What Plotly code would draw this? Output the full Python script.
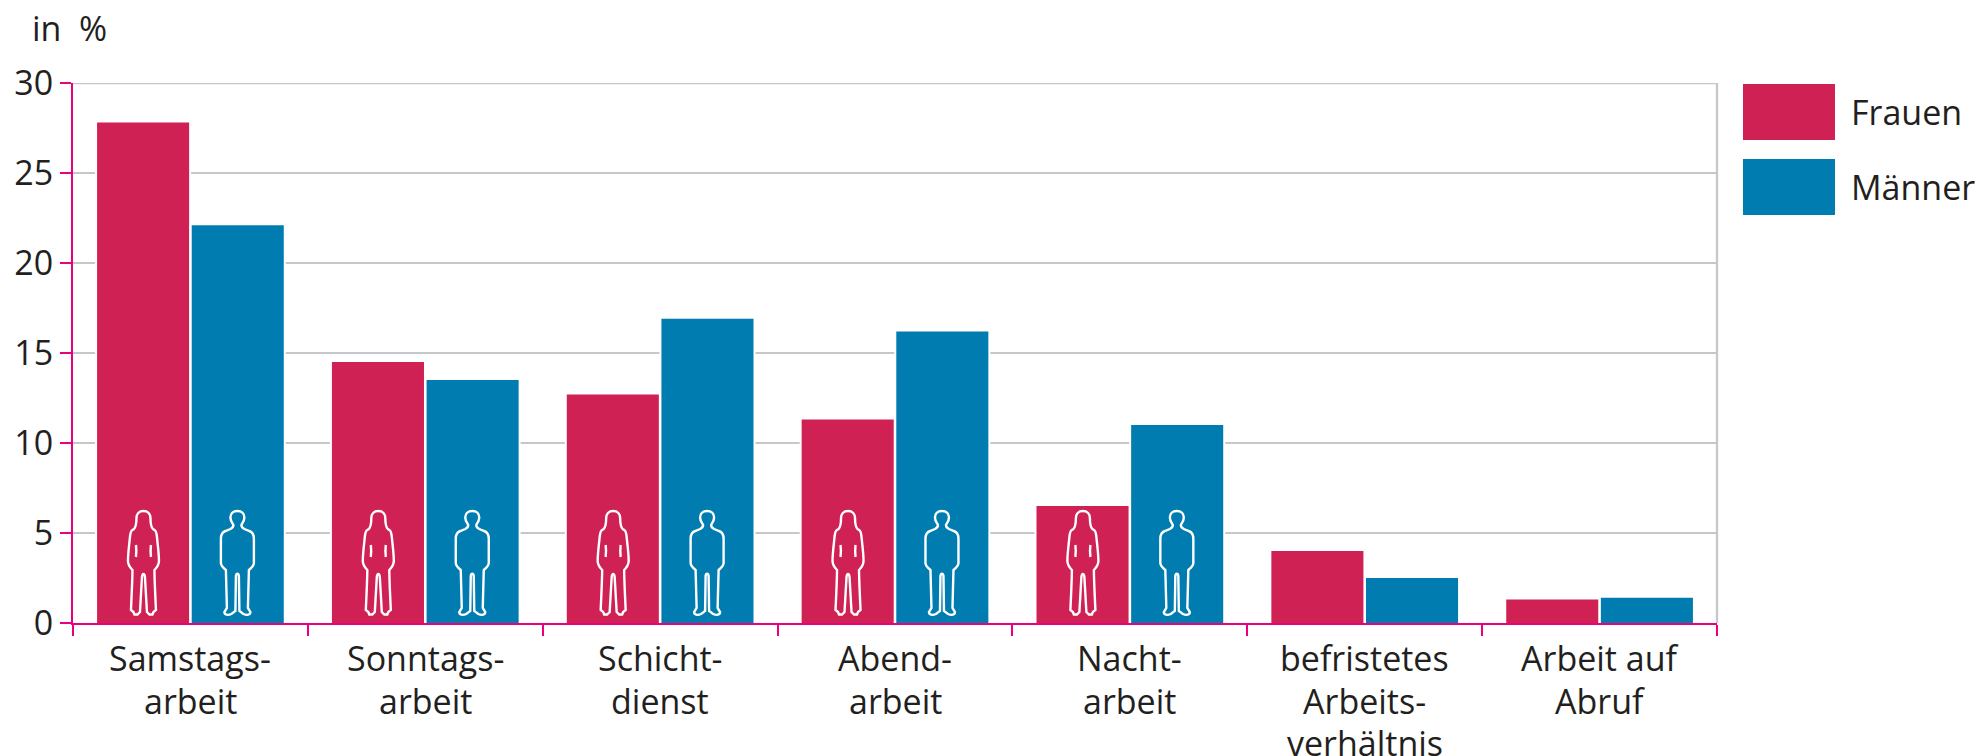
import plotly.graph_objects as go

categories = ["Samstags-\narbeit", "Sonntags-\narbeit", "Schicht-\ndienst", "Abend-\narbeit",
              "Nacht-\narbeit", "befristetes\nArbeits-\nverhältnis", "Arbeit auf\nAbruf"]
frauen = [27.8, 14.5, 12.7, 11.3, 6.5, 4.0, 1.3]
maenner = [22.1, 13.5, 16.9, 16.2, 11.0, 2.5, 1.4]
y_ticks = [0, 5, 10, 15, 20, 25, 30]

RED = "#d02154"
BLUE = "#007cb0"
PINK = "#e8007f"
GRID = "#c6c7c9"
INK = "#231f20"
FONT = "Open Sans"
W, H = 1980, 756
L, R, T, B = 73, 1717, 83, 623
BW = 0.392
GAP = 0.0055
fs = 34

ids = list(range(len(categories)))
fig = go.Figure()
for name, vals, col, off in [("Frauen", frauen, RED, -BW - GAP), ("Männer", maenner, BLUE, GAP)]:
    fig.add_bar(x=ids, y=vals, width=BW, offset=off, marker=dict(color="white", line=dict(color="white", width=4)),
                showlegend=False, hoverinfo="skip")
    fig.add_bar(x=ids, y=vals, width=BW, offset=off, name=name, marker=dict(color=col, line=dict(width=0)),
                showlegend=False)

shapes = [
    dict(type="line", xref="x domain", yref="paper", x0=1, x1=1, y0=0, y1=1, line=dict(color=GRID, width=2.3)),
    dict(type="line", xref="x domain", yref="y", x0=0, x1=1, y0=30, y1=30, line=dict(color=GRID, width=2.3)),
]

woman = ("M0,112 C-4.5,112 -7,109 -7,105 C-7,100 -7.5,96 -9.5,94 L-11,93 C-13,92 -13,90 -13.5,86 C-14,80 -15.5,70 -15.5,62 "
         "C-15.5,58 -13,55 -11,53 C-11,44 -12,24 -12.5,13 L-10,11 L-9,8.5 L-6,8.5 L-3.5,11 L-1.5,46 C-1,50 1,50 1.5,46 L3.5,11 L6,8.5 L9,8.5 L10,11 L12.5,13 "
         "C12,24 11,44 11,53 C13,55 15.5,58 15.5,62 C15.5,70 14,80 13.5,86 C13,90 13,92 11,93 L9.5,94 C7.5,96 7,100 7,105 C7,109 4.5,112 0,112 Z")
woman_l = "M-7.5,78 C-7,74 -7,70 -7.5,66"
woman_r = "M7.5,78 C7,74 7,70 7.5,66"
man = ("M0,112 C-4.5,112 -7,109 -7,105.5 C-7,102 -5,100 -4,98 C-4,96 -5,95 -7,94 L-12,92 C-15,91 -16.5,88 -16.5,84 L-16.5,60 C-16.5,57 -14,55 -11.5,53 "
       "L-10.5,15 L-13,11 C-13,8 -9.5,7.5 -6,9 L-2,12 L-1.5,47 C-1,50 1,50 1.5,47 L2,12 L6,9 C9.5,7.5 13,8 13,11 L10.5,15 L11.5,53 "
       "C14,55 16.5,57 16.5,60 L16.5,84 C16.5,88 15,91 12,92 L7,94 C5,95 4,96 4,98 C5,100 7,102 7,105.5 C7,109 4.5,112 0,112 Z")
for i in range(5):
    for path, dx in [(woman, -0.2), (woman_l, -0.2), (woman_r, -0.2), (man, 0.2)]:
        shapes.append(dict(type="path", xref="x", yref="y", xsizemode="pixel", ysizemode="pixel",
                           xanchor=i + dx, yanchor=0, path=path, line=dict(color="white", width=2.4),
                           fillcolor="rgba(0,0,0,0)"))

annotations = [dict(text="in\u00a0 %", x=(30 - L) / (R - L), y=(B - 28) / (B - T), xref="paper", yref="paper",
                    xanchor="left", yanchor="middle", showarrow=False, font=dict(family=FONT, size=fs, color=INK))]
for i, c in enumerate(categories):
    for j, line in enumerate(c.split("\n")):
        annotations.append(dict(text=line, x=i, xref="x", yref="paper", y=0, yanchor="middle", xanchor="center",
                                yshift=-(35 + 42.5 * j), showarrow=False, font=dict(family=FONT, size=fs, color=INK)))

for name, col, y0, y1 in [("Frauen", RED, 84, 140), ("Männer", BLUE, 159, 215)]:
    shapes.append(dict(type="rect", xref="paper", yref="paper", x0=(1743 - L) / (R - L), x1=(1835 - L) / (R - L),
                       y0=(B - y1) / (B - T), y1=(B - y0) / (B - T), fillcolor=col, line=dict(width=0)))
    annotations.append(dict(text=name, xref="paper", yref="paper", x=(1849 - L) / (R - L), y=(B - (y0 + y1) / 2) / (B - T),
                            xanchor="left", yanchor="middle", showarrow=False, font=dict(family=FONT, size=fs, color=INK)))

fig.update_layout(
    width=W, height=H, autosize=False, margin=dict(l=L, r=W - R, t=T, b=H - B),
    paper_bgcolor="white", plot_bgcolor="white", barmode="overlay",
    font=dict(family=FONT, size=fs, color=INK),
    shapes=shapes, annotations=annotations, showlegend=False,
    xaxis=dict(type="linear", range=[-0.5, len(categories) - 0.5], tickmode="array",
               tickvals=[i - 0.5 for i in range(len(categories) + 1)], ticktext=[""] * (len(categories) + 1),
               ticks="outside", ticklen=11, tickwidth=2, tickcolor=PINK, showgrid=False, zeroline=False,
               showline=True, linecolor=PINK, linewidth=2),
    yaxis=dict(range=[0, 30], tickmode="array", tickvals=y_ticks, ticks="outside", ticklen=11, tickwidth=2,
               tickcolor=PINK, showgrid=True, gridcolor=GRID, gridwidth=2.3, zeroline=False,
               showline=True, linecolor=PINK, linewidth=2, tickfont=dict(family=FONT, size=fs, color=INK)),
)
fig.write_html("out.html", config=dict(displayModeBar=False),
               post_script="document.body.style.margin='0';document.body.style.overflow='hidden';")
